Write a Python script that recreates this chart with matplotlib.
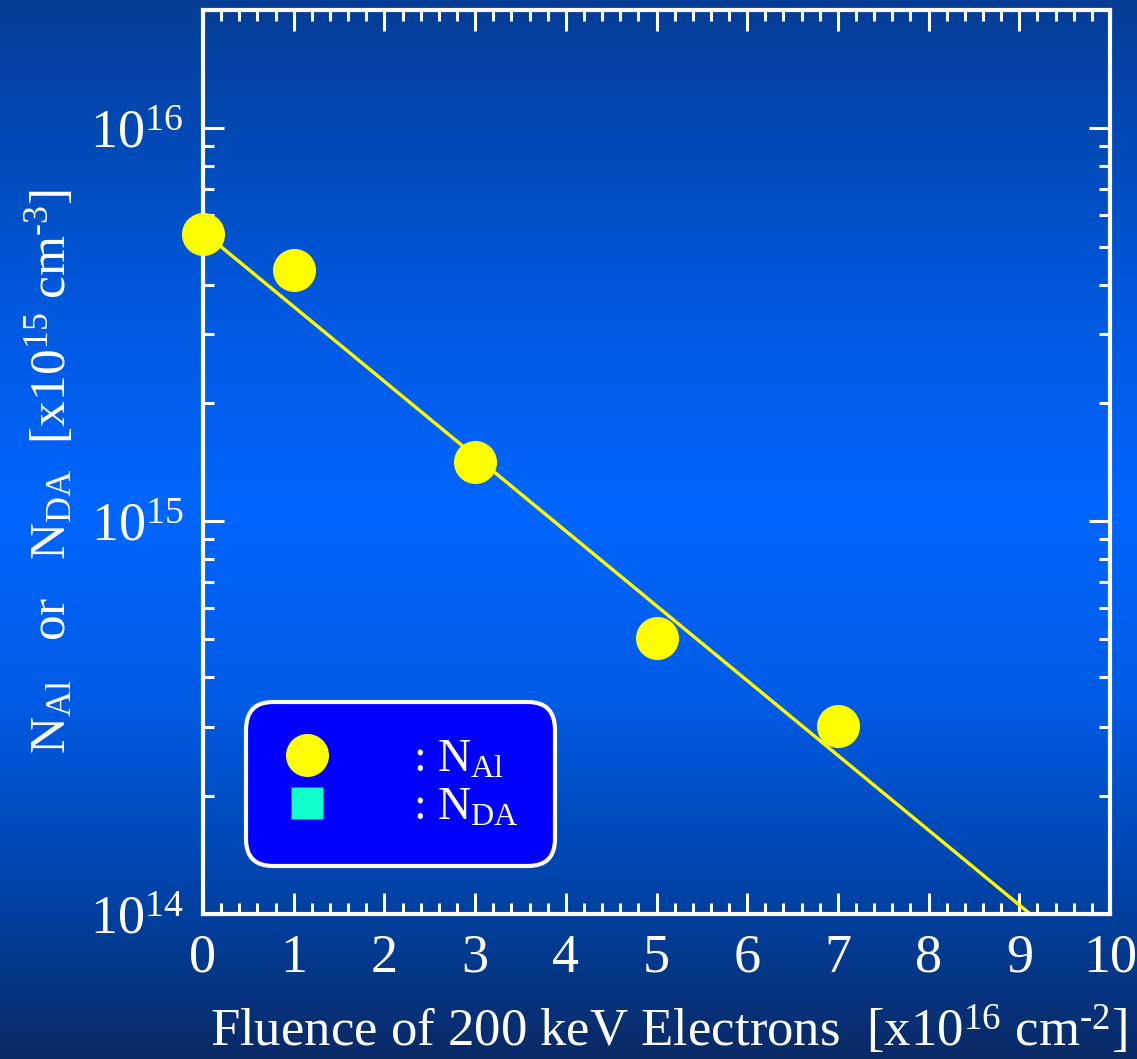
import numpy as np
import matplotlib
matplotlib.use('Agg')
import matplotlib.pyplot as plt
from matplotlib.colors import LinearSegmentedColormap
from matplotlib.lines import Line2D

plt.rcParams['font.family'] = ['Liberation Serif', 'DejaVu Serif']
plt.rcParams['mathtext.fontset'] = 'custom'
plt.rcParams['mathtext.rm'] = 'Liberation Serif'
plt.rcParams['mathtext.it'] = 'Liberation Serif:italic'

# data
fluence = [0, 1, 3, 5, 7]                            # x10^16 cm^-2
n_al = [5.37e15, 4.35e15, 1.41e15, 5.04e14, 3.01e14]  # cm^-3
fit_x = [0, 10]
fit_y = [5.45e15, 6.8e13]

x_ticks = list(range(0, 11))
y_ticks = [1e14, 1e15, 1e16]
y_ticklabels = [r'$10^{14}$', r'$10^{15}$', r'$10^{16}$']

fig = plt.figure(figsize=(11.37, 10.59), dpi=100)

# background gradient
bg = fig.add_axes([0, 0, 1, 1], zorder=-10)
bg.axis('off')
cmap = LinearSegmentedColormap.from_list('bg', [
    (0.0, '#053d96'), (0.28, '#0058dd'), (0.48, '#0066ff'),
    (0.66, '#005ce6'), (0.85, '#0042a5'), (1.0, '#0a2a66')])
grad = np.linspace(0, 1, 256).reshape(-1, 1)
bg.imshow(grad, aspect='auto', cmap=cmap, extent=[0, 1, 0, 1])

ax = fig.add_axes([0.1785, 0.1369, 0.7978, 0.8537])
ax.patch.set_alpha(0)

ax.plot(fit_x, fit_y, color='#ffff00', lw=2.4, zorder=2)
ax.plot(fluence, n_al, 'o', color='#ffff00', ms=31, mec='none', zorder=3, clip_on=False)

ax.set_yscale('log')
ax.set_xlim(0, 10)
ax.set_ylim(1e14, 2e16)
ax.set_xticks(x_ticks)
ax.set_xticks(np.arange(0, 10.01, 0.2), minor=True)
ax.set_yticks(y_ticks)
ax.set_yticklabels(y_ticklabels)

for s in ax.spines.values():
    s.set_color('white')
    s.set_linewidth(3)
ax.tick_params(which='both', direction='in', top=True, right=True, colors='white',
               labelsize=39, width=2.2)
ax.tick_params(which='major', length=15)
ax.tick_params(which='minor', length=8)
ax.tick_params(axis='x', pad=14)
ax.tick_params(axis='y', pad=14)

ax.set_xlabel(r'Fluence of 200 keV Electrons  [x10$^{16}$ cm$^{\text{-}2}$]', color='white',
              fontsize=38)
ax.xaxis.set_label_coords(0.513, -0.1, transform=ax.transAxes)
ax.xaxis.label.set_va('top')
ax.set_ylabel(r'N$_{\mathrm{Al}}$   or   N$_{\mathrm{DA}}$  [x10$^{15}$ cm$^{\text{-}3}$]', color='white',
              fontsize=37)
ax.yaxis.set_label_coords(-0.14, 0.489, transform=ax.transAxes)

handles = [Line2D([], [], ls='none', marker='o', ms=31, color='#ffff00', mec='none'),
           Line2D([], [], ls='none', marker='s', ms=23, color='#11ffcc', mec='none')]
labels = [r': N$_{\mathrm{Al}}$', r': N$_{\mathrm{DA}}$']
leg = ax.legend(handles, labels, loc='lower left', bbox_to_anchor=(0.047, 0.053),
                borderaxespad=0, fontsize=33, labelcolor='white', frameon=True,
                fancybox=True, facecolor='#0000ff', edgecolor='white', framealpha=1,
                handletextpad=1.75, labelspacing=0.12, borderpad=0.8, handlelength=1.1)
leg.get_frame().set_linewidth(3)
leg.get_frame().set_boxstyle('round', pad=0, rounding_size=0.6)

fig.savefig('out.png', dpi=100)
